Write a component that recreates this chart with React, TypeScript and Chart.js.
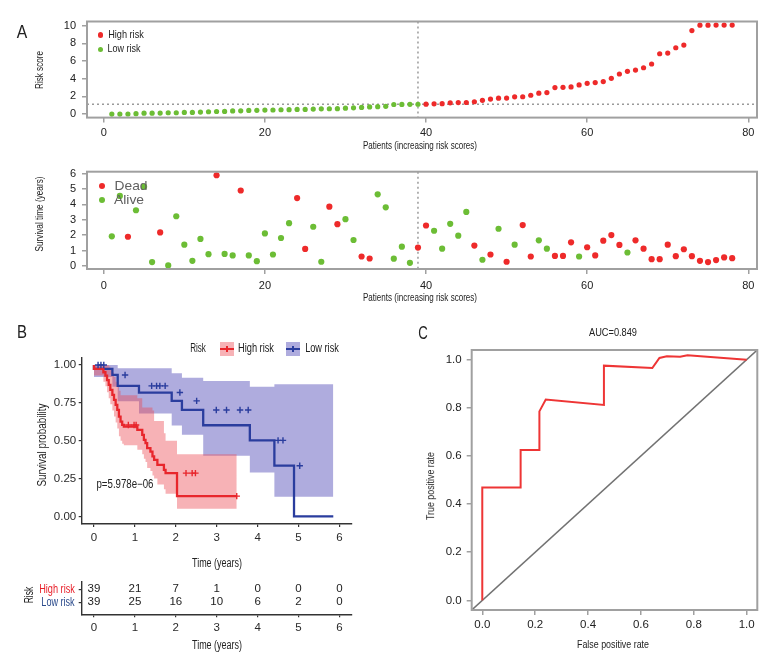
import React, { useEffect, useRef } from "react";
import { Chart, registerables } from "chart.js";

Chart.register(...registerables);

const SANS = "'Liberation Sans', Arial, sans-serif";

// ---------------- Panel A data ----------------
const PATIENT_TICKS = [0, 20, 40, 60, 80];
const RISK_TICKS = [0, 2, 4, 6, 8, 10];
const SURV_TICKS = [0, 1, 2, 3, 4, 5, 6];

const LOW_RISK_SCORES = [
  0.0, 0.0, 0.01, 0.04, 0.1, 0.1, 0.11, 0.15, 0.15, 0.18, 0.19, 0.22, 0.26, 0.29, 0.3, 0.36, 0.37, 0.41, 0.42, 0.45,
  0.46, 0.49, 0.5, 0.52, 0.53, 0.56, 0.59, 0.6, 0.61, 0.67, 0.71, 0.75, 0.81, 0.84, 0.87, 1.08, 1.09, 1.1, 1.11,
];
const HIGH_RISK_SCORES = [
  1.12, 1.16, 1.17, 1.27, 1.3, 1.31, 1.39, 1.55, 1.69, 1.8, 1.81, 1.95, 1.96, 2.13, 2.36, 2.43, 3.0, 3.02, 3.07, 3.3,
  3.48, 3.56, 3.67, 4.04, 4.53, 4.83, 4.98, 5.24, 5.66, 6.82, 6.9, 7.5, 7.8, 9.44, 10.05, 10.05, 10.06, 10.06, 10.07,
];
const RISK_CUTOFF = 1.12;

const SURVIVAL_YEARS = [
  1.93, 4.55, 1.9, 3.62, 5.15, 0.26, 2.18, 0.04, 3.23, 1.39, 0.34, 1.76, 0.77, 5.89, 0.79, 0.69, 4.9, 0.69, 0.32, 2.12,
  0.75, 1.82, 2.78, 4.41, 1.11, 2.55, 0.28, 3.85, 2.72, 3.04, 1.69, 0.62, 0.49, 4.65, 3.81, 0.48, 1.26, 0.21, 1.2,
  2.63, 2.29, 1.13, 2.74, 1.97, 3.51, 1.33, 0.41, 0.75, 2.42, 0.28, 1.39, 2.66, 0.62, 1.67, 1.13, 0.66, 0.66, 1.54,
  0.62, 1.22, 0.69, 1.65, 2.01, 1.37, 0.88, 1.67, 1.13, 0.45, 0.45, 1.39, 0.64, 1.09, 0.64, 0.34, 0.26, 0.39, 0.56, 0.51,
];
const STATUS_DEAD = [
  0, 0, 1, 0, 0, 0, 1, 0, 0, 0, 0, 0, 0, 1, 0, 0, 1, 0, 0, 0,
  0, 0, 0, 1, 1, 0, 0, 1, 1, 0, 0, 1, 1, 0, 0, 0, 0, 0, 1,
  1, 0, 0, 0, 0, 0, 1, 0, 1, 0, 1, 0, 1, 1, 0, 0, 1, 1, 1,
  0, 1, 1, 1, 1, 1, 0, 1, 1, 1, 1, 1, 1, 1, 1, 1, 1, 1, 1, 1,
];

// ---------------- Panel B data ----------------
const TIME_TICKS = [0, 1, 2, 3, 4, 5, 6];
const PROB_TICKS = [0, 0.25, 0.5, 0.75, 1];

const HIGH_KM_TIME = [0, 0.23, 0.28, 0.32, 0.36, 0.4, 0.45, 0.49, 0.53, 0.57, 0.61, 0.65, 0.69, 0.73, 1.06, 1.18, 1.22, 1.26, 1.3, 1.38, 1.43, 1.47, 1.55, 1.71, 1.75, 2.03, 2.64, 3.49];
const HIGH_KM_SURV = [1, 0.974, 0.952, 0.93, 0.9, 0.868, 0.835, 0.802, 0.769, 0.736, 0.703, 0.659, 0.626, 0.604, 0.593, 0.571, 0.539, 0.506, 0.484, 0.451, 0.428, 0.396, 0.374, 0.341, 0.308, 0.286, 0.134, 0.134];
const HIGH_KM_UPPER = [1, 1, 1, 1, 1, 0.99, 0.97, 0.95, 0.92, 0.89, 0.86, 0.83, 0.8, 0.8, 0.8, 0.78, 0.72, 0.72, 0.72, 0.72, 0.72, 0.7, 0.63, 0.63, 0.55, 0.5, 0.41, 0.41];
const HIGH_KM_LOWER = [1, 0.93, 0.89, 0.86, 0.82, 0.78, 0.74, 0.7, 0.66, 0.62, 0.58, 0.53, 0.5, 0.48, 0.47, 0.44, 0.41, 0.38, 0.36, 0.32, 0.3, 0.27, 0.25, 0.21, 0.18, 0.15, 0.05, 0.05];
const HIGH_CENSOR_TIME = [0.84, 0.98, 1.03, 2.25, 2.4, 2.48, 3.49];

const LOW_KM_TIME = [0, 0.45, 0.58, 1.1, 1.9, 2.15, 2.67, 3.81, 4.41, 4.89, 5.85];
const LOW_KM_SURV = [1, 0.974, 0.934, 0.862, 0.818, 0.763, 0.703, 0.602, 0.502, 0.335, 0];
const LOW_KM_UPPER = [1, 1, 1, 0.978, 0.978, 0.945, 0.916, 0.895, 0.857, 0.873, 0.873];
const LOW_KM_LOWER = [1, 0.92, 0.857, 0.76, 0.68, 0.6, 0.54, 0.4, 0.29, 0.13, 0.13];
const LOW_CENSOR_TIME = [0.1, 0.17, 0.24, 0.76, 1.41, 1.53, 1.61, 1.74, 2.1, 2.51, 2.99, 3.24, 3.57, 3.77, 4.5, 4.62, 5.03];

const RISK_GROUPS = ["High risk", "Low risk"];
const HIGH_AT_RISK = [39, 21, 7, 1, 0, 0, 0];
const LOW_AT_RISK = [39, 25, 16, 10, 6, 2, 0];
const P_VALUE_TEXT = "p=5.978e\u221206";

// ---------------- Panel C data ----------------
const RATE_TICKS = [0, 0.2, 0.4, 0.6, 0.8, 1];
const ROC_FPR = [0, 0, 0.145, 0.145, 0.216, 0.216, 0.24, 0.46, 0.46, 0.643, 0.67, 0.698, 0.748, 0.776, 1.0];
const ROC_TPR = [0, 0.469, 0.469, 0.625, 0.625, 0.785, 0.834, 0.812, 0.975, 0.965, 1.007, 1.014, 1.012, 1.018, 1.0];
const AUC_TEXT = "AUC=0.849";

// ---------------- styles ----------------
const PT_RED = "#ee2a2a";
const PT_GREEN = "#6cbd35";
const FRAME = "#a0a0a0";
const KM_RED = "#e8262c";
const KM_BLUE = "#2a3d9e";
const BAND_RED = "rgba(236, 72, 82, 0.42)";
const BAND_BLUE = "rgba(95, 90, 190, 0.5)";
const TXT = "#222";

const stepAt = (ts: number[], ss: number[], t: number) => {
  let v = ss[0];
  for (let i = 0; i < ts.length; i++) if (ts[i] <= t) v = ss[i];
  return v;
};
const pts = (xs: number[], ys: number[]) => xs.map((x, i) => ({ x, y: ys[i] }));
const fixedTicks = (vals: number[]) => (axis: any) => {
  axis.ticks = vals.map((v) => ({ value: v }));
};

const framePlugin = {
  id: "frame",
  afterDatasetsDraw(chart: any, _a: any, opts: any) {
    const { ctx, chartArea } = chart;
    const { left, top, right, bottom } = chartArea;
    ctx.save();
    ctx.strokeStyle = opts.color;
    ctx.lineWidth = opts.width;
    ctx.strokeRect(left, top, right - left, bottom - top);
    ctx.restore();
  },
};

const refLinesPlugin = {
  id: "refLines",
  beforeDatasetsDraw(chart: any, _a: any, opts: any) {
    const { ctx, chartArea, scales } = chart;
    ctx.save();
    ctx.strokeStyle = opts.color;
    ctx.lineWidth = opts.width;
    ctx.setLineDash(opts.dash);
    if (opts.x != null) {
      const px = scales.x.getPixelForValue(opts.x);
      ctx.beginPath();
      ctx.moveTo(px, chartArea.top);
      ctx.lineTo(px, chartArea.bottom);
      ctx.stroke();
    }
    if (opts.y != null) {
      const py = scales.y.getPixelForValue(opts.y);
      ctx.beginPath();
      ctx.moveTo(chartArea.left, py);
      ctx.lineTo(chartArea.right, py);
      ctx.stroke();
    }
    ctx.restore();
  },
};

const atRiskPlugin = {
  id: "atRisk",
  afterDatasetsDraw(chart: any, _a: any, opts: any) {
    const { ctx } = chart;
    ctx.save();
    ctx.font = `${opts.size}px ${SANS}`;
    ctx.fillStyle = opts.color;
    ctx.textAlign = "center";
    ctx.textBaseline = "middle";
    chart.data.datasets.forEach((ds: any, di: number) => {
      const meta = chart.getDatasetMeta(di);
      meta.data.forEach((el: any, i: number) => {
        ctx.fillText(String(ds.data[i].n), el.x, el.y);
      });
    });
    ctx.restore();
  },
};

const baseOpts = { animation: false as const, responsive: false, events: [] as any[] };

// R base-graphics style axis (ticks outside, gray frame drawn by plugin)
function rAxis(horizontal: boolean, min: number, max: number, ticks: number[], size: number, fontSize: number, pad: number, fmt?: (v: number) => string) {
  return {
    type: "linear",
    min,
    max,
    afterBuildTicks: fixedTicks(ticks),
    afterFit: (s: any) => {
      if (horizontal) s.height = size;
      else s.width = size;
    },
    grid: { drawOnChartArea: false, drawTicks: true, tickLength: 5, color: FRAME, lineWidth: 1.5 },
    border: { display: false },
    ticks: { font: { family: SANS, size: fontSize }, color: TXT, padding: pad, maxRotation: 0, autoSkip: false, callback: fmt ? (v: any) => fmt(Number(v)) : undefined },
    title: { display: false },
  };
}

// ggplot classic style axis (axis line + short ticks)
function ggAxis(horizontal: boolean, min: number, max: number, ticks: number[], size: number, showLabels: boolean, fmt?: (v: number) => string) {
  return {
    type: "linear",
    min,
    max,
    afterBuildTicks: fixedTicks(ticks),
    afterFit: (s: any) => {
      if (horizontal) s.height = size;
      else s.width = size;
    },
    grid: { drawOnChartArea: false, drawTicks: true, tickLength: 3, color: "#333", lineWidth: 1.2 },
    border: { display: true, color: "#333", width: 1.4 },
    ticks: { display: showLabels, font: { family: SANS, size: 11.5 }, color: "#2a2a2a", padding: horizontal ? 4 : 2.5, maxRotation: 0, autoSkip: false, callback: fmt ? (v: any) => fmt(Number(v)) : undefined },
    title: { display: false },
  };
}

function riskScoreConfig(): any {
  const low = LOW_RISK_SCORES.map((v, i) => ({ x: i + 1, y: v }));
  const high = HIGH_RISK_SCORES.map((v, i) => ({ x: LOW_RISK_SCORES.length + i + 1, y: v }));
  return {
    type: "scatter",
    data: {
      datasets: [
        { label: "High risk", data: high, backgroundColor: PT_RED, pointBackgroundColor: PT_RED, pointBorderWidth: 0, pointRadius: 2.6 },
        { label: "Low risk", data: low, backgroundColor: PT_GREEN, pointBackgroundColor: PT_GREEN, pointBorderWidth: 0, pointRadius: 2.6 },
      ],
    },
    options: {
      ...baseOpts,
      layout: { padding: { top: 21.5, right: 23, left: 0, bottom: 0 } },
      plugins: {
        legend: { display: false },
        tooltip: { enabled: false },
        frame: { color: FRAME, width: 2 },
        refLines: { x: LOW_RISK_SCORES.length, y: RISK_CUTOFF, color: "#9a9a9a", width: 1.5, dash: [2, 3] },
      },
      scales: {
        x: rAxis(true, -2.08, 81.08, PATIENT_TICKS, 37.4, 11, 4),
        y: rAxis(false, -0.4, 10.47, RISK_TICKS, 87, 11, 6),
      },
    },
    plugins: [framePlugin, refLinesPlugin],
  };
}

function survivalConfig(): any {
  const dead: any[] = [];
  const alive: any[] = [];
  SURVIVAL_YEARS.forEach((v, i) => {
    (STATUS_DEAD[i] ? dead : alive).push({ x: i + 1, y: v });
  });
  return {
    type: "scatter",
    data: {
      datasets: [
        { label: "Dead", data: dead, backgroundColor: PT_RED, pointBackgroundColor: PT_RED, pointBorderWidth: 0, pointRadius: 3.1 },
        { label: "Alive", data: alive, backgroundColor: PT_GREEN, pointBackgroundColor: PT_GREEN, pointBorderWidth: 0, pointRadius: 3.1 },
      ],
    },
    options: {
      ...baseOpts,
      layout: { padding: { top: 16.7, right: 23, left: 0, bottom: 0 } },
      plugins: {
        legend: { display: false },
        tooltip: { enabled: false },
        frame: { color: FRAME, width: 2 },
        refLines: { x: LOW_RISK_SCORES.length, y: null, color: "#9a9a9a", width: 1.5, dash: [2, 3] },
      },
      scales: {
        x: rAxis(true, -2.08, 81.08, PATIENT_TICKS, 46, 11, 5.5),
        y: rAxis(false, -0.19, 6.12, SURV_TICKS, 87, 11, 6),
      },
    },
    plugins: [framePlugin, refLinesPlugin],
  };
}

function kmConfig(): any {
  const censor = (ts: number[], ss: number[], times: number[]) => times.map((t) => ({ x: t, y: stepAt(ts, ss, t) }));
  const band = (data: any, fill: any, color: string) => ({
    data,
    stepped: "after",
    borderWidth: 0,
    borderColor: "rgba(0,0,0,0)",
    pointRadius: 0,
    fill,
    backgroundColor: color,
    order: 3,
  });
  return {
    type: "line",
    data: {
      datasets: [
        { label: "High censor", data: censor(HIGH_KM_TIME, HIGH_KM_SURV, HIGH_CENSOR_TIME), showLine: false, pointStyle: "cross", pointRadius: 3.2, pointBorderColor: KM_RED, pointBorderWidth: 1.4, order: 1 },
        { label: "Low censor", data: censor(LOW_KM_TIME, LOW_KM_SURV, LOW_CENSOR_TIME), showLine: false, pointStyle: "cross", pointRadius: 3.2, pointBorderColor: KM_BLUE, pointBorderWidth: 1.4, order: 1 },
        { label: "High risk", data: pts(HIGH_KM_TIME, HIGH_KM_SURV), stepped: "after", borderColor: KM_RED, borderWidth: 2.3, pointRadius: 0, fill: false, order: 2 },
        { label: "Low risk", data: pts(LOW_KM_TIME, LOW_KM_SURV), stepped: "after", borderColor: KM_BLUE, borderWidth: 2.3, pointRadius: 0, fill: false, order: 2 },
        band(pts(HIGH_KM_TIME, HIGH_KM_UPPER), "+1", BAND_RED),
        band(pts(HIGH_KM_TIME, HIGH_KM_LOWER), false, BAND_RED),
        band(pts(LOW_KM_TIME, LOW_KM_UPPER), "+1", BAND_BLUE),
        band(pts(LOW_KM_TIME, LOW_KM_LOWER), false, BAND_BLUE),
      ],
    },
    options: {
      ...baseOpts,
      layout: { padding: { top: 17.4, right: 38.3, left: 0, bottom: 0 } },
      plugins: { legend: { display: false }, tooltip: { enabled: false } },
      scales: {
        x: ggAxis(true, -0.3, 6.3, TIME_TICKS, 51, true),
        y: ggAxis(false, -0.05, 1.05, PROB_TICKS, 81.7, true, (v) => v.toFixed(2)),
      },
    },
  };
}

function tableConfig(): any {
  const rows = [HIGH_AT_RISK, LOW_AT_RISK];
  const yAxis: any = ggAxis(false, 0.42, 2.92, [1, 2], 81.7, false);
  yAxis.reverse = true;
  return {
    type: "scatter",
    data: {
      datasets: rows.map((row, r) => ({
        label: RISK_GROUPS[r],
        data: TIME_TICKS.map((t, i) => ({ x: t, y: r + 1, n: row[i] })),
        pointRadius: 0,
      })),
    },
    options: {
      ...baseOpts,
      layout: { padding: { top: 6.7, right: 38.3, left: 0, bottom: 0 } },
      plugins: { legend: { display: false }, tooltip: { enabled: false }, atRisk: { size: 11.5, color: "#222" } },
      scales: {
        x: ggAxis(true, -0.3, 6.3, TIME_TICKS, 57.7, true),
        y: yAxis,
      },
    },
    plugins: [atRiskPlugin],
  };
}

function rocConfig(): any {
  const lo = -0.04;
  const hi = 1.04;
  return {
    type: "line",
    data: {
      datasets: [
        { label: "ROC", data: pts(ROC_FPR, ROC_TPR), borderColor: "#ee3535", borderWidth: 2, pointRadius: 0, tension: 0, fill: false },
        { label: "Chance", data: [{ x: lo, y: lo }, { x: hi, y: hi }], borderColor: "#727272", borderWidth: 1.6, pointRadius: 0, fill: false },
      ],
    },
    options: {
      ...baseOpts,
      layout: { padding: { top: 30, right: 22.7, left: 0, bottom: 0 } },
      plugins: {
        legend: { display: false },
        tooltip: { enabled: false },
        frame: { color: FRAME, width: 2 },
      },
      scales: {
        x: rAxis(true, lo, hi, RATE_TICKS, 62, 11.5, 3.4, (v) => v.toFixed(1)),
        y: rAxis(false, lo, hi, RATE_TICKS, 71.7, 11.5, 5, (v) => v.toFixed(1)),
      },
    },
    plugins: [framePlugin],
  };
}

// ---------- HTML text helpers (condensed to match the reference's narrow face) ----------
let measureCtx: CanvasRenderingContext2D | null = null;
function measure(text: string, font: string) {
  if (!measureCtx) measureCtx = document.createElement("canvas").getContext("2d");
  if (!measureCtx) return 1;
  measureCtx.font = font;
  return measureCtx.measureText(text).width || 1;
}

const FitText = ({ text, cx, cy, size, width, color = TXT, family = SANS, rotate = false }: any) => {
  const natural = measure(text, `${size}px ${family}`);
  const s = width ? width / natural : 1;
  return (
    <div
      style={{
        position: "absolute",
        left: cx,
        top: cy,
        fontSize: size,
        lineHeight: `${size * 1.2}px`,
        fontFamily: family,
        color,
        whiteSpace: "nowrap",
        transform: `translate(-50%, -50%)${rotate ? " rotate(-90deg)" : ""} scaleX(${s})`,
      }}
    >
      {text}
    </div>
  );
};

const Dot = ({ x, y, r, color }: any) => (
  <div style={{ position: "absolute", left: x - r, top: y - r, width: 2 * r, height: 2 * r, borderRadius: "50%", background: color }} />
);

const KmKey = ({ x, y, fill, line }: any) => (
  <div style={{ position: "absolute", left: x, top: y, width: 14, height: 14, background: fill }}>
    <div style={{ position: "absolute", left: 0, top: 6, width: 14, height: 2, background: line }} />
    <div style={{ position: "absolute", left: 6, top: 4, width: 2, height: 6, background: line }} />
  </div>
);

const CANVASES = [
  { key: "a1", left: 0, top: 0, w: 780, h: 155, cfg: riskScoreConfig },
  { key: "a2", left: 0, top: 155, w: 780, h: 160, cfg: survivalConfig },
  { key: "b", left: 0, top: 340, w: 390, h: 235, cfg: kmConfig },
  { key: "t", left: 0, top: 575, w: 390, h: 97, cfg: tableConfig },
  { key: "c", left: 400, top: 320, w: 380, h: 352, cfg: rocConfig },
];

export default function App() {
  const refs = useRef<(HTMLCanvasElement | null)[]>([]);
  useEffect(() => {
    const charts = CANVASES.map((c, i) => new Chart(refs.current[i] as HTMLCanvasElement, c.cfg()));
    return () => charts.forEach((ch) => ch.destroy());
  }, []);

  return (
    <div style={{ position: "absolute", left: 0, top: 0, width: 780, height: 672, background: "#fff", overflow: "hidden" }}>
      {CANVASES.map((c, i) => (
        <canvas
          key={c.key}
          ref={(el) => {
            refs.current[i] = el;
          }}
          width={c.w}
          height={c.h}
          style={{ position: "absolute", left: c.left, top: c.top, width: c.w, height: c.h }}
        />
      ))}

      {/* panel letters */}
      <FitText text="A" cx={21.7} cy={31.7} size={19} width={10.5} />
      <FitText text="B" cx={21.7} cy={332} size={19} width={10} />
      <FitText text="C" cx={422.8} cy={333} size={19} width={9.5} />

      {/* panel A titles */}
      <FitText text="Risk score" cx={40} cy={70} size={11} width={38} rotate />
      <FitText text="Patients (increasing risk scores)" cx={420} cy={146} size={11} width={114} />
      <FitText text="Survival time (years)" cx={40} cy={214} size={11} width={75} rotate />
      <FitText text="Patients (increasing risk scores)" cx={420} cy={297.5} size={11} width={114} />

      {/* panel A legends */}
      <Dot x={100.7} y={35} r={2.8} color={PT_RED} />
      <FitText text="High risk" cx={125.5} cy={35} size={11} width={35.6} />
      <Dot x={100.7} y={49.3} r={2.8} color={PT_GREEN} />
      <FitText text="Low risk" cx={124.2} cy={49.3} size={11} width={33} />

      <Dot x={101.7} y={186} r={3.2} color={PT_RED} />
      <FitText text="Dead" cx={131} cy={186} size={13} width={33} color="#606060" />
      <Dot x={101.7} y={200} r={3.2} color={PT_GREEN} />
      <FitText text="Alive" cx={129} cy={200} size={13} width={30} color="#606060" />

      {/* panel B legend + annotations */}
      <FitText text="Risk" cx={197.8} cy={348.3} size={12} width={15.7} />
      <KmKey x={220} y={341.5} fill={BAND_RED} line={KM_RED} />
      <FitText text="High risk" cx={256.3} cy={348.3} size={12} width={36} />
      <KmKey x={286} y={341.5} fill={BAND_BLUE} line={KM_BLUE} />
      <FitText text="Low risk" cx={321.8} cy={348.3} size={12} width={33.7} />

      <FitText text="Survival probability" cx={41.7} cy={445} size={12} width={83} rotate />
      <FitText text={P_VALUE_TEXT} cx={125.2} cy={484} size={12} width={57} />
      <FitText text="Time (years)" cx={217.3} cy={562.7} size={12} width={50} />

      {/* risk table labels */}
      <FitText text="Risk" cx={29} cy={595} size={12} width={16.7} rotate />
      <FitText text={RISK_GROUPS[0]} cx={57.2} cy={589.3} size={12} width={35.7} color="#e8202a" />
      <FitText text={RISK_GROUPS[1]} cx={58.4} cy={602.3} size={12} width={33.3} color="#2b4b8c" />
      <FitText text="Time (years)" cx={217.3} cy={645} size={12} width={50} />

      {/* panel C titles */}
      <FitText text={AUC_TEXT} cx={612.7} cy={333} size={11.5} width={48} />
      <FitText text="True positive rate" cx={431} cy={485.7} size={11.5} width={68} rotate />
      <FitText text="False positive rate" cx={612.7} cy={645} size={11.5} width={72} />
    </div>
  );
}
